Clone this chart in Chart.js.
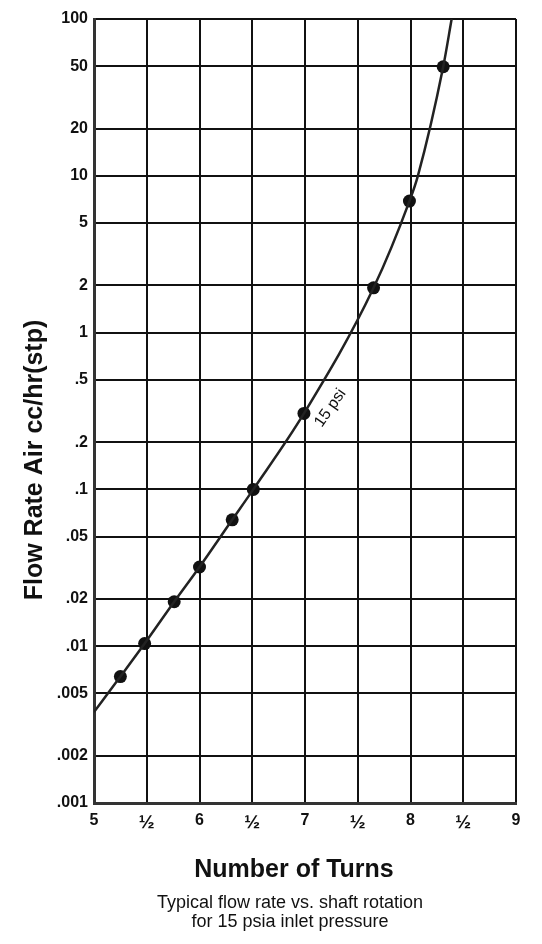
<!DOCTYPE html>
<html>
<head>
<meta charset="utf-8">
<script src="https://cdn.jsdelivr.net/npm/chart.js@4"></script>
<style>
  body { margin: 0; background: #fff; }
  canvas { display: block; }
</style>
</head>
<body>
<canvas id="chart" width="542" height="944"></canvas>
<script>
// measured points (filled dots)
var dotTurns = [5.25, 5.48, 5.76, 6.0, 6.31, 6.51, 6.99, 7.65, 7.99, 8.31];
var dotFlow = [0.0064, 0.0104, 0.0192, 0.032, 0.064, 0.1, 0.305, 1.93, 6.9, 49.6];

// the drawn 15 psi curve
var curveTurns = [5.0, 5.25, 5.48, 5.76, 6.0, 6.31, 6.51, 6.99, 7.65, 7.99, 8.07, 8.31, 8.39];
var curveFlow = [0.0038, 0.0064, 0.0104, 0.0192, 0.032, 0.064, 0.1, 0.305, 1.93, 6.9, 10, 49.6, 100];

var xTickValues = [5, 5.5, 6, 6.5, 7, 7.5, 8, 8.5, 9];
var xTickLabels = ["5", "½", "6", "½", "7", "½", "8", "½", "9"];
var yTickValues = [0.001, 0.002, 0.005, 0.01, 0.02, 0.05, 0.1, 0.2, 0.5, 1, 2, 5, 10, 20, 50, 100];
var yTickLabels = [".001", ".002", ".005", ".01", ".02", ".05", ".1", ".2", ".5", "1", "2", "5", "10", "20", "50", "100"];

var xTitle = "Number of Turns";
var yTitle = "Flow Rate Air cc/hr(stp)";
var captionLines = ["Typical flow rate vs. shaft rotation", "for 15 psia inlet pressure"];
var curveLabel = "15 psi";

function toPoints(xs, ys) {
  return xs.map(function(x, i) {
    return { x: x, y: ys[i] };
  });
}

var ink = "#111";
var font = "'Liberation Sans', Arial, sans-serif";

var captions = {
  id: "captions",
  afterDraw: function(chart) {
    var ctx = chart.ctx;
    var xs = chart.scales.x;
    var ys = chart.scales.y;
    ctx.save();
    ctx.fillStyle = ink;
    ctx.textAlign = "center";
    ctx.textBaseline = "alphabetic";

    ctx.font = "bold 25px " + font;
    ctx.fillText(xTitle, 294, 877);

    ctx.save();
    ctx.translate(42, 460);
    ctx.rotate(-Math.PI / 2);
    ctx.fillText(yTitle, 0, 0);
    ctx.restore();

    ctx.font = "18px " + font;
    ctx.fillText(captionLines[0], 290, 908);
    ctx.fillText(captionLines[1], 290, 927);

    // label along the curve
    ctx.save();
    ctx.translate(xs.getPixelForValue(7.24), ys.getPixelForValue(0.33));
    ctx.rotate(-55 * Math.PI / 180);
    ctx.font = "16px " + font;
    ctx.textBaseline = "middle";
    ctx.fillText(curveLabel, 0, 0);
    ctx.restore();

    ctx.restore();
  }
};

var config = {
  type: "line",
  data: {
    datasets: [{
      label: "15 psi curve",
      data: toPoints(curveTurns, curveFlow),
      borderColor: "#222",
      borderWidth: 2.5,
      pointRadius: 0,
      cubicInterpolationMode: "monotone",
      fill: false,
    }, {
      label: "measured",
      data: toPoints(dotTurns, dotFlow),
      showLine: false,
      pointRadius: 6.5,
      pointBackgroundColor: ink,
      pointBorderWidth: 0,
    }],
  },
  options: {
    responsive: false,
    animation: false,
    events: [],
    layout: {
      padding: { top: 19, right: 26, left: 0, bottom: 0 }
    },
    plugins: {
      legend: { display: false },
      tooltip: { enabled: false },
    },
    scales: {
      x: {
        type: "linear",
        min: 5,
        max: 9,
        afterBuildTicks: function(scale) {
          scale.ticks = xTickValues.map(function(v) { return { value: v }; });
        },
        afterFit: function(scale) {
          scale.height = 141;
        },
        ticks: {
          autoSkip: false,
          maxRotation: 0,
          padding: 8,
          color: ink,
          font: function(c) {
            var half = c.index % 2 === 1;
            return { family: font, size: half ? 19 : 16, weight: "bold" };
          },
          callback: function(v, i) { return xTickLabels[i]; },
        },
        grid: { color: ink, lineWidth: 2, drawTicks: false },
        border: { display: true, color: "#333", width: 3 },
      },
      y: {
        type: "logarithmic",
        min: 0.001,
        max: 100,
        afterBuildTicks: function(scale) {
          scale.ticks = yTickValues.map(function(v) { return { value: v }; });
        },
        afterFit: function(scale) {
          scale.width = 94;
        },
        ticks: {
          autoSkip: false,
          padding: 6,
          color: ink,
          font: { family: font, size: 16, weight: "bold" },
          callback: function(v, i) { return yTickLabels[i]; },
        },
        grid: { color: ink, lineWidth: 2, drawTicks: false },
        border: { display: true, color: "#333", width: 3 },
      },
    },
  },
  plugins: [captions],
};

new Chart(document.getElementById("chart").getContext("2d"), config);
</script>
</body>
</html>
